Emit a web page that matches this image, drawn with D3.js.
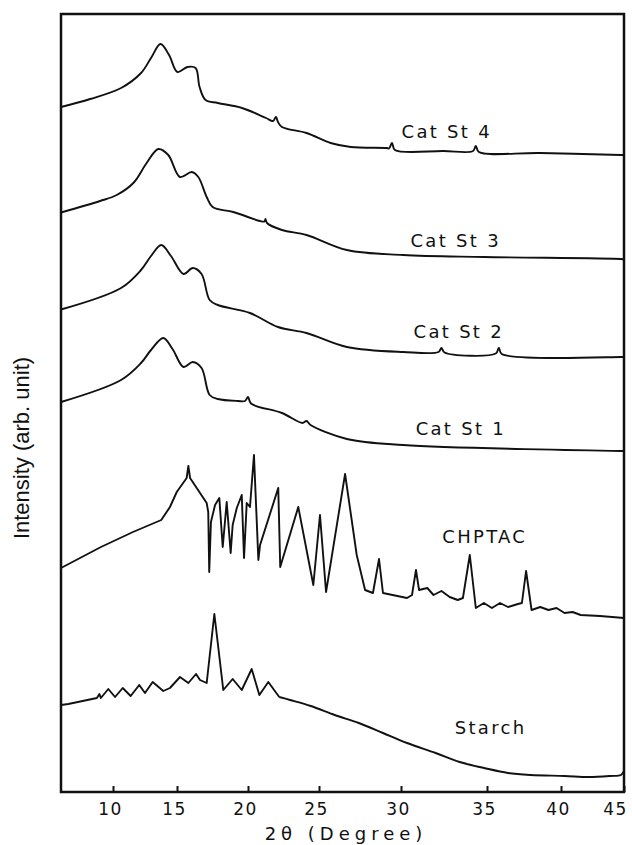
<!DOCTYPE html>
<html>
<head>
  <meta charset="utf-8">
  <title>XRD patterns</title>
  <script src="https://cdn.jsdelivr.net/npm/d3@7/dist/d3.min.js"></script>
  <style>
    body { margin: 0; background: #fff; }
  </style>
</head>
<body>
  <svg width="632" height="845" id="mainsvg"></svg>
  <script>
    // x axis of the scan
    const xTicks = [10, 15, 20, 25, 30, 35, 40, 45];
    const xMin = 5.9;

    // each pattern: [2theta (deg), intensity (arb. unit, stacked)]
    const catSt4 = [[5.9,685],[8.2,693],[10.63,704],[12.19,719],[12.97,734],[13.71,748],[14.38,737],[15.03,720],
      [15.74,725],[16.31,724],[16.59,705],[17.01,692],[17.87,689],[19.58,684],[21.27,674],[21.76,671],[21.97,675],
      [22.11,670],[22.39,665],[24.12,659],[25.71,649],[26.94,645],[29.15,644],[29.27,643.5],[29.45,649],[29.63,642],
      [32.47,641],[34.19,641],[34.35,646],[34.53,640],[38.58,639],[44.76,637],[45,637]];
    const catSt3 = [[5.9,579.5],[8.98,591],[10.29,597],[11.59,609],[12.63,629],[13.54,643],[14.32,637],[15.21,615],
      [16.04,620],[16.5,615],[17.09,595],[17.51,585],[18.96,580],[20.85,571],[21.16,570.5],[21.23,573],[21.34,569],
      [22.39,562],[24.12,557],[26.7,542],[30.12,537],[34.83,535],[44.76,533],[45,532.5]];
    const catSt2 = [[5.9,482.5],[10.63,504],[12.19,522],[12.97,536],[13.77,547],[14.53,536],[15.46,518],[16.11,524],
      [16.73,518],[17.3,492],[17.87,487],[20.14,479],[22.11,465],[24.12,459],[26.7,445],[30.12,440],[32.18,440],
      [32.35,444],[32.53,439.5],[35.59,438.5],[35.8,444],[36,438],[44.76,435],[45,435]];
    const catSt1 = [[5.9,390],[10.63,412],[12.19,429],[12.97,442],[13.93,454],[14.65,443],[15.46,425],[16.11,430],
      [16.73,424],[17.3,397],[17.87,393],[19.3,391],[19.79,391],[20,395],[20.21,388.5],[22.39,379],[23.83,369],
      [24.12,371],[24.4,367],[26.7,353],[30.12,347],[44.76,341],[45,341]];
    const chptac = [[5.9,224],[9.05,245],[11.56,260],[13.77,272],[14.45,285],[14.98,300],[15.68,314],[15.8,326],
      [15.92,314],[17.09,289],[17.2,280],[17.27,220],[17.39,270],[17.68,287],[17.98,294],[18.22,245],[18.5,290],
      [18.78,239],[18.92,267],[19.21,284],[19.56,297],[19.72,234],[19.91,289],[20.14,285],[20.42,337],[20.73,232],
      [20.85,247],[22.13,304],[22.27,225],[23.54,285],[24.6,207],[25.06,277],[25.43,200],[26.59,318],[27.3,237],
      [27.81,202],[28.29,199],[28.66,233],[28.9,199],[30.35,194],[30.64,197],[30.87,222],[31.05,202],[31.53,204],
      [31.89,197],[32.35,201],[32.83,195],[33.3,192],[33.6,194],[34,237],[34.35,184],[34.82,189],[35.33,184],
      [35.88,189],[36.42,185],[37.09,188],[37.36,189],[37.64,221],[38.01,182],[38.6,185],[39.15,182],[39.7,184],
      [40.28,179],[40.92,180],[41.56,177],[43.1,176],[45,174]];
    const starch = [[5.9,87],[6.48,88],[8.73,94],[8.93,98],[9.04,94],[9.63,103],[10.16,95],[10.76,104],[11.38,96],
      [12.05,107],[12.5,99],[13.1,110],[13.93,101],[14.45,104],[15.21,115],[15.8,109],[16.34,118],[16.62,112],
      [17.09,109],[17.63,178],[18.26,102],[18.92,113],[19.56,102],[20.26,123],[20.8,97],[21.43,110],[22.2,95],
      [22.96,92],[24.42,86],[25.96,77],[27.43,69],[28.9,59],[30.35,49],[32.01,39],[33.41,30],[34.83,24],[36.42,19],
      [37.96,17],[40.28,16],[42.2,15],[43.89,16],[44.76,17],[45,21]];

    const seriesNames = ['Cat St 4', 'Cat St 3', 'Cat St 2', 'Cat St 1', 'CHPTAC', 'Starch'];
    const seriesData = [catSt4, catSt3, catSt2, catSt1, chptac, starch];
    // 2theta above which a pattern is only the smooth amorphous hump (spikes below it are drawn straight)
    const amorphousFrom = [5.9, 5.9, 5.9, 5.9, 46, 22.2];

    const svg = d3.select('svg');
    const frame = {left: 61, top: 14, right: 624, bottom: 792};
    const geo = '"DejaVu Sans", sans-serif';

    // the printed scale is not perfectly even, so map each tick to where it was printed
    const xScale = d3.scaleLinear()
      .domain([xMin, ...xTicks])
      .range([frame.left, 113, 177, 248, 319, 401, 487, 561, frame.right]);
    const yScale = d3.scaleLinear().domain([0, 778]).range([frame.bottom, frame.top]);

    const smooth = d3.line().x(d => xScale(d[0])).y(d => yScale(d[1])).curve(d3.curveCatmullRom.alpha(0.5));
    const sharp = d3.line().x(d => xScale(d[0])).y(d => yScale(d[1]));

    const patternPath = (d, i) => {
      const cut = amorphousFrom[i];
      const spiky = d.filter(p => p[0] <= cut);
      const hump = d.filter(p => p[0] >= cut);
      return (spiky.length > 1 ? sharp(spiky) : '') + (hump.length > 1 ? smooth(hump) : '');
    };

    svg.selectAll('path.pattern').data(seriesData).join('path')
      .attr('class', 'pattern')
      .attr('d', patternPath)
      .attr('fill', 'none')
      .attr('stroke', '#111')
      .attr('stroke-width', 1.9)
      .attr('stroke-linejoin', 'round');

    // labels next to each pattern: [2theta, intensity] of the text baseline centre
    const labelAt = [[32.66, 653.7], [33.18, 545.3], [33.36, 454.3], [33.48, 356.7], [34.87, 249.3], [35.24, 57.7]];
    svg.selectAll('text.name').data(seriesNames).join('text')
      .attr('class', 'name')
      .attr('x', (d, i) => xScale(labelAt[i][0]))
      .attr('y', (d, i) => yScale(labelAt[i][1]))
      .attr('text-anchor', 'middle')
      .attr('font-family', geo)
      .attr('font-size', 18)
      .attr('letter-spacing', 2.3)
      .attr('fill', '#111')
      .text(d => d);

    // frame
    svg.append('rect')
      .attr('x', frame.left).attr('y', frame.top)
      .attr('width', frame.right - frame.left).attr('height', frame.bottom - frame.top)
      .attr('fill', 'none').attr('stroke', '#111').attr('stroke-width', 2.5);

    const xAxis = d3.axisBottom(xScale).tickValues(xTicks).tickSizeInner(-6).tickSizeOuter(0).tickPadding(11);
    const xAxisGroup = svg.append('g').attr('transform', `translate(0, ${frame.bottom})`).call(xAxis);
    xAxisGroup.select('.domain').remove();
    xAxisGroup.selectAll('line').attr('stroke', '#111').attr('stroke-width', 2);
    xAxisGroup.selectAll('text')
      .attr('font-family', geo).attr('font-size', 17)
      .attr('letter-spacing', 1.5).attr('fill', '#111')
      .attr('dx', d => d === 45 ? -9 : -3);

    svg.append('text')
      .attr('x', 346).attr('y', 840)
      .attr('text-anchor', 'middle')
      .attr('font-family', geo).attr('font-size', 18)
      .attr('letter-spacing', 5).attr('fill', '#111')
      .text('2θ (Degree)');

    svg.append('text')
      .attr('transform', 'translate(29, 448) rotate(-90)')
      .attr('text-anchor', 'middle')
      .attr('font-family', '"Liberation Sans Narrow", "Liberation Sans", sans-serif')
      .attr('font-size', 22).attr('fill', '#111')
      .text('Intensity (arb. unit)');
  </script>
</body>
</html>
